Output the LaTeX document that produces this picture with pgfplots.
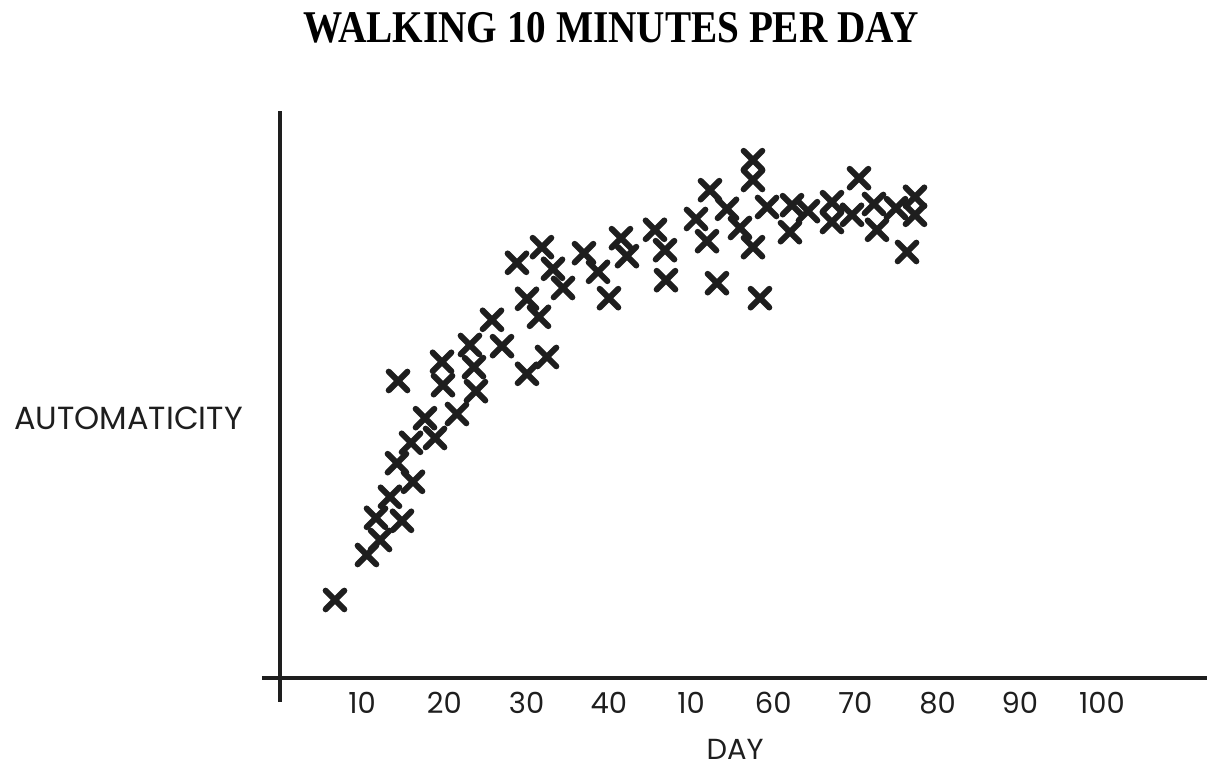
\documentclass[border=0pt]{standalone}
\usepackage{pgfplots}
\pgfplotsset{compat=1.18}
\usepackage{pgfplotstable}
\usepackage{graphicx}
\usepackage{fontspec}
\setmainfont{Poppins}
\newfontfamily\titlefont{Liberation Serif}
\definecolor{ink}{HTML}{1E1E1E}

\pgfplotstableread{
x y
6.69 13.0
10.58 20.5
12.17 23.0
11.68 26.7
14.84 26.2
13.38 30.2
16.18 32.7
14.23 35.8
15.94 39.2
18.86 40.0
17.64 43.3
21.53 44.0
14.36 49.5
19.71 52.7
19.83 48.8
23.11 55.5
23.60 51.8
23.84 47.8
25.79 59.7
27.01 55.3
28.83 69.2
30.05 63.2
30.05 50.7
31.51 60.2
32.48 53.5
31.87 71.8
33.21 68.2
34.43 65.0
36.98 70.8
38.69 67.7
40.02 63.3
41.48 73.3
42.21 70.3
45.62 74.7
46.84 71.3
46.96 66.3
50.61 76.5
52.31 81.3
51.95 72.8
53.16 65.8
54.38 78.2
55.96 75.0
57.54 86.3
57.54 83.0
57.54 71.8
58.39 63.3
59.25 78.5
62.04 74.3
62.29 78.8
64.23 77.8
67.15 79.3
67.15 76.0
69.59 77.2
70.44 83.3
72.26 79.0
72.63 74.7
74.94 78.3
76.28 71.0
77.25 80.2
77.25 77.2
}\walkdata

\begin{document}
\begin{tikzpicture}
\begin{axis}[
  x=4.11pt, y=3pt,
  xmin=-2.19, xmax=112.8, ymin=-4, ymax=94.5,
  axis lines=middle,
  axis line style={line width=2pt, -, color=ink},
  xtick={10,20,...,100},
  xticklabels={10,20,30,40,10,60,70,80,90,100},
  ytick=\empty,
  major tick length=0pt,
  xticklabel style={font=\fontsize{14.5pt}{16pt}\selectfont, anchor=base, yshift=-18pt, text=ink},
  clip=false,
]
\addplot[only marks, mark=x, mark size=6.6pt,
  mark options={line width=3pt, line cap=round, color=ink}] table {\walkdata};
\coordinate (O) at (axis cs:0,0);
\end{axis}
\node[font=\titlefont\bfseries\fontsize{22.7pt}{26pt}\selectfont, text=black, inner sep=0pt]
  at ([shift={(165.5pt,325pt)}]O) {\scalebox{0.864}[1]{WALKING 10 MINUTES PER DAY}};
\node[font=\fontsize{16pt}{18pt}\selectfont, text=ink, inner sep=0pt]
  at ([shift={(-75.75pt,129.75pt)}]O) {AUTOMATICITY};
\node[font=\fontsize{14.5pt}{16pt}\selectfont, text=ink, inner sep=0pt]
  at ([shift={(227.5pt,-35.5pt)}]O) {DAY};
\pgfresetboundingbox
\path (O) ++(-140pt,-45.5pt) rectangle ++(603.5pt,384.5pt);
\end{tikzpicture}
\end{document}
